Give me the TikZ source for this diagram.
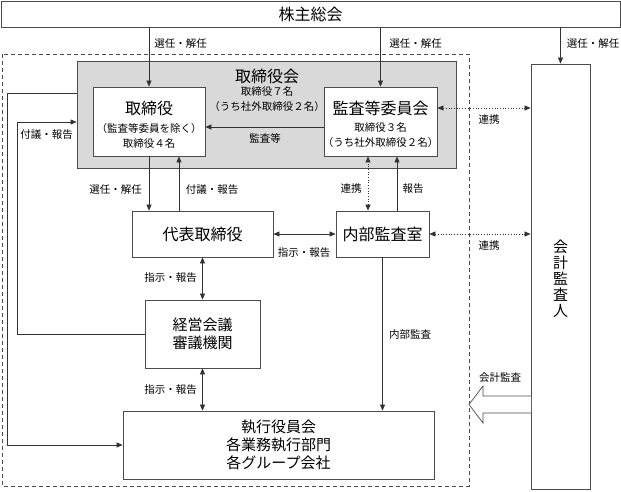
\documentclass[tikz,border=0pt]{standalone}
\usepackage{fontspec}
\setmainfont{Noto Sans CJK JP}
\usetikzlibrary{arrows.meta}

\begin{document}
\begin{tikzpicture}[x=1pt, y=-1pt,
    boite/.style={draw=black!70, fill=white, inner sep=0pt, line width=0.8pt},
    fleche/.style={-{Triangle[length=6pt,width=5pt]}, draw=black!80, line width=0.7pt},
    bidir/.style={{Triangle[length=6pt,width=5pt]}-{Triangle[length=6pt,width=5pt]}, draw=black!80, line width=0.7pt},
    lienpt/.style={bidir, dotted},
    etiq/.style={font=\fontsize{10.5}{12}\selectfont, inner sep=0pt},
    grand/.style={font=\fontsize{16}{18}\selectfont, inner sep=0pt},
    moyen/.style={font=\fontsize{15}{18}\selectfont, inner sep=0pt, align=center},
    petit/.style={font=\fontsize{10.5}{15}\selectfont, inner sep=0pt, align=center}]
    \useasboundingbox (0,0) rectangle (621,491);

    % Cadre en pointillés
    \draw[black!70, line width=0.7pt, dash pattern=on 4pt off 3pt] (2,54) rectangle (469,486);

    % Les boîtes
    \node[boite, minimum width=619pt, minimum height=26pt] (ag) at (310.5,14) {};
    \node[grand] (agt) at (310.5,14) {株主総会};
    \node[boite, fill=black!15, minimum width=379pt, minimum height=107pt] (cb) at (266.5,114.5) {};
    \node[grand] (cbt) at (267,76) {取締役会};
    \node[petit] (cbs) at (267,99.5) {取締役７名\\（うち社外取締役２名）};
    \node[boite, minimum width=112pt, minimum height=69pt] (dir) at (149,121.5) {};
    \node[grand] (dirt) at (149,108) {取締役};
    \node[petit] (dirs) at (149,135.5) {（監査等委員を除く）\\取締役４名};
    \node[boite, minimum width=113pt, minimum height=69pt] (ac) at (380.5,121.5) {};
    \node[grand] (act) at (380.5,108) {監査等委員会};
    \node[petit] (acs) at (380.5,135.5) {取締役３名\\（うち社外取締役２名）};
    \node[boite, minimum width=59pt, minimum height=425pt] (ext) at (560.5,276.5) {};
    \node[moyen, font=\fontsize{15}{16}\selectfont] (extt) at (560.5,279) {会\\計\\監\\査\\人};
    \node[boite, grand, minimum width=141pt, minimum height=46pt] (ceo) at (202.5,234) {代表取締役};
    \node[boite, grand, minimum width=93pt, minimum height=46pt] (ia) at (382.5,234) {内部監査室};
    \node[boite, moyen, minimum width=115pt, minimum height=68pt] (mc) at (202.5,334) {経営会議\\審議機関};
    \node[boite, moyen, minimum width=311pt, minimum height=68pt] (exe) at (278.5,445) {執行役員会\\各業務執行部門\\各グループ会社};

    % Coordonnées des retours à gauche
    \coordinate (bi) at (17,122);
    \coordinate (be) at (7,93);

    % Flèches du 株主総会
    \draw[fleche] (dir.north |- ag.south) -- (dir.north);
    \draw[fleche] (ac.north |- ag.south) -- (ac.north);
    \draw[fleche] (ext.north |- ag.south) -- (ext.north);
    \node[etiq] (l1) at (180.5,44) {選任・解任};
    \node[etiq] (l2) at (415.5,44) {選任・解任};
    \node[etiq] (l3) at (593,44) {選任・解任};

    % Dans le 取締役会
    \draw[fleche] ([yshift=-5.5pt]ac.west) -- ([yshift=-5.5pt]ac.west -| dir.east);
    \node[etiq] (l4) at (265,138) {監査等};
    \draw[lienpt] ([yshift=13.5pt]ac.east) -- ([yshift=13.5pt]ac.east -| ext.west);
    \node[etiq] (l5) at (489,120) {連携};

    % Entre 取締役 et 代表取締役
    \draw[fleche] (dir.south) -- (dir.south |- ceo.north);
    \draw[fleche] ([xshift=30pt]dir.south |- ceo.north) -- ([xshift=30pt]dir.south);
    \node[etiq] (l6) at (115.5,190) {選任・解任};
    \node[etiq] (l7) at (212,190) {付議・報告};

    % Entre 監査等委員会 et 内部監査室
    \draw[lienpt] ([xshift=-14.5pt]ia.north) -- ([xshift=-14.5pt]ia.north |- ac.south);
    \draw[fleche] ([xshift=14.5pt]ia.north) -- ([xshift=14.5pt]ia.north |- ac.south);
    \node[etiq] (l8) at (351,189) {連携};
    \node[etiq] (l9) at (413,189) {報告};

    % 代表取締役, 内部監査室, 経営会議
    \draw[bidir] (ceo.east) -- (ia.west);
    \node[etiq] (l10) at (304,253) {指示・報告};
    \draw[lienpt] (ia.east) -- (ia.east -| ext.west);
    \node[etiq] (l11) at (489,246) {連携};
    \draw[bidir] (ceo.south) -- (mc.north);
    \node[etiq] (l12) at (170.5,278) {指示・報告};
    \draw[bidir] (mc.south) -- (mc.south |- exe.north);
    \node[etiq] (l13) at (170.5,390) {指示・報告};
    \draw[fleche] (ia.south) -- (ia.south |- exe.north);
    \node[etiq] (l14) at (410,335) {内部監査};

    % Retours à gauche
    \draw[fleche] (mc.west) -| (bi) -- (bi -| cb.west);
    \node[etiq] (l15) at (46.5,135) {付議・報告};
    \draw[fleche] (be -| cb.west) -- (be) |- (exe.west);

    % Grosse flèche du 会計監査
    \draw[black!70, line width=0.7pt, fill=white] (531,396) -- (483,396) -- (483,386) -- (469,404.5) -- (483,423) -- (483,413) -- (531,413);
    \node[etiq] (l16) at (500,378) {会計監査};
\end{tikzpicture}
\end{document}
